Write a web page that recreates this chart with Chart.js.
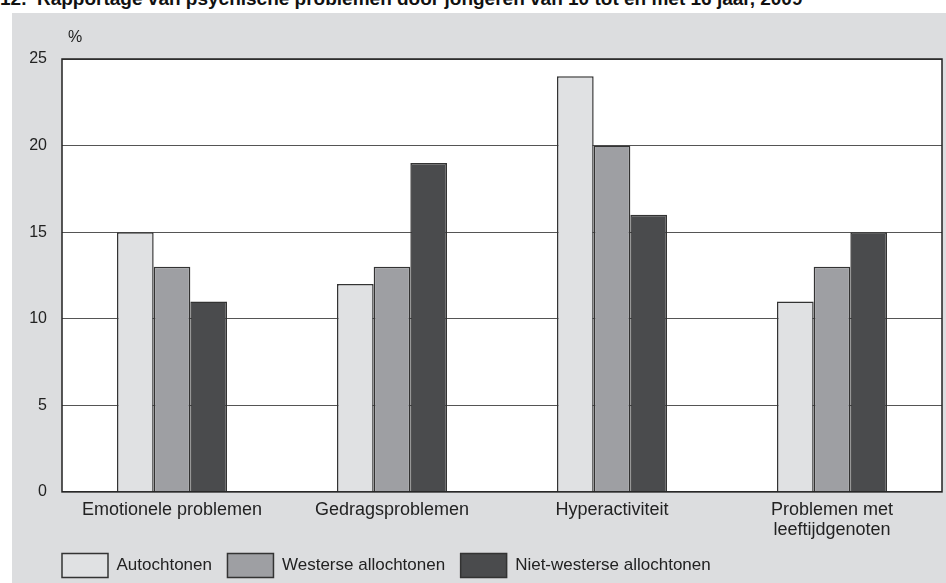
<!DOCTYPE html>
<html>
<head>
<meta charset="utf-8">
<script src="https://cdn.jsdelivr.net/npm/chart.js@4"></script>
<style>
  html, body { margin: 0; padding: 0; background: #fff; overflow: hidden; width: 946px; height: 583px; }
  #title { position: absolute; left: 0; top: -12px; font: bold 19px "Liberation Sans", Arial, sans-serif; color: #111; white-space: nowrap; }
  #panel { position: absolute; left: 12px; top: 13px; width: 934px; height: 570px; background: #dcdddf; }
  #myChart { position: absolute; left: 12px; top: 13px; }
</style>
</head>
<body>
<div id="title">12.&nbsp;&nbsp;Rapportage van psychische problemen door jongeren van 10 tot en met 16 jaar, 2009</div>
<div id="panel"></div>
<canvas id="myChart" width="934" height="576"></canvas>
<script>
const categories = ["Emotionele problemen", "Gedragsproblemen", "Hyperactiviteit", ["Problemen met", "leeftijdgenoten"]];
const autochtonen = [15, 12, 24, 11];
const westerse = [13, 13, 20, 13];
const nietWesterse = [11, 19, 16, 15];
const yMax = 25;
const yStep = 5;

const font = '"Liberation Sans", Arial, sans-serif';

// white plot area, frame round it and the "%" unit label
const plotFrame = {
  id: "plotFrame",
  afterLayout(chart) {
    // legend starts under the plot's left edge, a bit closer to the axis labels
    chart.legend.left = chart.chartArea.left - 15.5;
    chart.legend.top = chart.chartArea.bottom + 46;
  },
  beforeDraw(chart) {
    const { ctx, chartArea: a } = chart;
    ctx.save();
    ctx.fillStyle = "#fff";
    ctx.fillRect(a.left, a.top, a.right - a.left, a.bottom - a.top);
    ctx.restore();
  },
  afterDraw(chart) {
    const { ctx, chartArea: a } = chart;
    ctx.save();
    ctx.strokeStyle = "#222";
    ctx.lineWidth = 1.5;
    ctx.strokeRect(a.left, a.top, a.right - a.left, a.bottom - a.top);
    ctx.fillStyle = "#222";
    ctx.font = "16px " + font;
    ctx.textBaseline = "middle";
    ctx.fillText("%", a.left + 6, a.top - 21);
    ctx.restore();
  },
};

const ctx = document.getElementById("myChart").getContext("2d");
const myChart = new Chart(ctx, {
  type: "bar",
  data: {
    labels: categories,
    datasets: [
      { label: "Autochtonen", data: autochtonen, backgroundColor: "#e0e1e3" },
      { label: "Westerse allochtonen", data: westerse, backgroundColor: "#9e9fa3" },
      { label: "Niet-westerse allochtonen", data: nietWesterse, backgroundColor: "#4a4b4d" },
    ].map((ds) => ({ ...ds, borderColor: "#333", borderWidth: 1.5, categoryPercentage: 0.5, barPercentage: 1 })),
  },
  options: {
    responsive: false,
    animation: false,
    layout: { padding: { left: 10, right: 4, top: 46, bottom: 0 } },
    plugins: {
      tooltip: { enabled: false },
      legend: {
        position: "bottom",
        align: "start",
        labels: { boxWidth: 46, boxHeight: 24, padding: 15.5, color: "#222", font: { family: font, size: 17 } },
      },
    },
    scales: {
      x: {
        grid: { display: false },
        border: { display: false },
        ticks: { color: "#222", padding: 0, maxRotation: 0, autoSkip: false, font: { family: font, size: 18, lineHeight: 1.1 } },
      },
      y: {
        min: 0,
        max: yMax,
        afterFit: (scale) => { scale.width = 40; },
        grid: { color: "#555", lineWidth: 1, drawTicks: false },
        border: { display: false },
        ticks: { stepSize: yStep, color: "#222", padding: 15, font: { family: font, size: 16 } },
      },
    },
  },
  plugins: [plotFrame],
});
</script>
</body>
</html>
